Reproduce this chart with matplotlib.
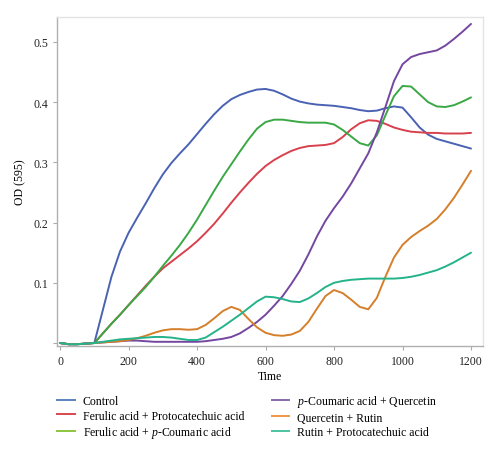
import matplotlib
matplotlib.use("Agg")
import matplotlib.pyplot as plt
from matplotlib.lines import Line2D

plt.rcParams['font.family'] = ['Liberation Serif', 'DejaVu Serif']
plt.rcParams['mathtext.fontset'] = 'custom'
plt.rcParams['mathtext.it'] = 'Liberation Serif:italic'
plt.rcParams['mathtext.rm'] = 'Liberation Serif'

time = [0, 25, 50, 75, 100, 125, 150, 175, 200, 225, 250, 275, 300, 325, 350, 375,
        400, 425, 450, 475, 500, 525, 550, 575, 600, 625, 650, 675, 700, 725, 750, 775,
        800, 825, 850, 875, 900, 925, 950, 975, 1000, 1025, 1050, 1075, 1100, 1125, 1150,
        1175, 1200]

control = [0.0, -0.002, -0.002, -0.001, 0.0, 0.055, 0.11, 0.152, 0.183, 0.208, 0.232, 0.257,
           0.28, 0.299, 0.315, 0.33, 0.347, 0.364, 0.38, 0.394, 0.405, 0.412, 0.417, 0.421,
           0.422, 0.419, 0.413, 0.406, 0.401, 0.398, 0.396, 0.395, 0.394, 0.392, 0.39, 0.387,
           0.385, 0.386, 0.39, 0.393, 0.391, 0.375, 0.358, 0.346, 0.339, 0.335, 0.331, 0.327,
           0.323]
ferulic_proto = [0.0, -0.002, -0.002, -0.001, 0.0, 0.016, 0.032, 0.047, 0.063, 0.079, 0.095,
                 0.11, 0.124, 0.135, 0.146, 0.157, 0.169, 0.183, 0.198, 0.215, 0.233, 0.25,
                 0.266, 0.281, 0.294, 0.304, 0.312, 0.319, 0.324, 0.327, 0.328, 0.329, 0.332,
                 0.342, 0.355, 0.365, 0.37, 0.369, 0.364, 0.358, 0.354, 0.351, 0.35, 0.349,
                 0.349, 0.348, 0.348, 0.348, 0.349]
ferulic_coum = [0.0, -0.002, -0.002, -0.001, 0.0, 0.016, 0.032, 0.047, 0.063, 0.078, 0.093,
                0.11, 0.128, 0.145, 0.163, 0.183, 0.205, 0.229, 0.253, 0.276, 0.297, 0.318,
                0.338, 0.356, 0.367, 0.371, 0.371, 0.369, 0.367, 0.366, 0.366, 0.366, 0.363,
                0.354, 0.343, 0.332, 0.328, 0.345, 0.378, 0.41, 0.427, 0.426, 0.413, 0.4,
                0.393, 0.392, 0.395, 0.401, 0.408]
coum_querc = [0.0, -0.002, -0.002, -0.001, 0.0, 0.001, 0.002, 0.003, 0.004, 0.004, 0.003,
              0.002, 0.002, 0.002, 0.002, 0.002, 0.002, 0.003, 0.005, 0.007, 0.01, 0.016,
              0.025, 0.035, 0.047, 0.062, 0.078, 0.098, 0.12, 0.147, 0.177, 0.203, 0.224,
              0.243, 0.265, 0.29, 0.315, 0.35, 0.392, 0.435, 0.463, 0.475, 0.48, 0.483,
              0.486, 0.494, 0.505, 0.517, 0.53]
querc_rutin = [0.0, -0.002, -0.002, -0.001, 0.0, 0.001, 0.002, 0.003, 0.005, 0.008, 0.012,
               0.017, 0.021, 0.023, 0.023, 0.022, 0.023, 0.03, 0.041, 0.053, 0.06, 0.055,
               0.04, 0.026, 0.017, 0.013, 0.012, 0.014, 0.02, 0.035, 0.057, 0.078, 0.088,
               0.083, 0.072, 0.06, 0.056, 0.075, 0.11, 0.142, 0.163, 0.176, 0.186, 0.195,
               0.206, 0.222, 0.241, 0.263, 0.286]
rutin_proto = [0.0, -0.002, -0.002, -0.001, 0.0, 0.002, 0.004, 0.006, 0.007, 0.008, 0.009,
               0.01, 0.01, 0.009, 0.007, 0.005, 0.005, 0.009, 0.018, 0.027, 0.037, 0.047,
               0.058, 0.069, 0.077, 0.076, 0.073, 0.069, 0.068, 0.074, 0.083, 0.093, 0.1,
               0.103, 0.105, 0.106, 0.107, 0.107, 0.107, 0.107, 0.108, 0.11, 0.113, 0.117,
               0.121, 0.127, 0.134, 0.142, 0.15]

labels = ["Control",
          "Ferulic acid + Protocatechuic acid",
          r"Ferulic acid + $\it{p}$-Coumaric acid",
          r"$\it{p}$-Coumaric acid + Quercetin",
          "Quercetin + Rutin",
          "Rutin + Protocatechuic acid"]
series = [control, ferulic_proto, ferulic_coum, coum_querc, querc_rutin, rutin_proto]
colors = ["#4a62b3", "#d8404e", "#3aa845", "#7447a0", "#d57f2a", "#24b38a"]
legend_colors = ["#5a82c0", "#d9484f", "#8cc63f", "#8a6aab", "#f0954a", "#4cc4a0"]

xticks = [0, 200, 400, 600, 800, 1000, 1200]
yticks = [0.0, 0.1, 0.2, 0.3, 0.4, 0.5]
ytick_labels = ["", "0.1", "0.2", "0.3", "0.4", "0.5"]

fig = plt.figure(figsize=(5.0, 4.56), dpi=100)
ax = fig.add_axes([0.114, 0.239, 0.852, 0.7215])

for vals, c in zip(series, colors):
    ax.plot(time, vals, color=c, lw=1.4, solid_joinstyle='round', solid_capstyle='round')

ax.set_xlim(-9, 1235)
ax.set_ylim(-0.005, 0.5415)
ax.set_xticks(xticks)
ax.set_xticklabels([str(v) for v in xticks])
ax.set_yticks(yticks)
ax.set_yticklabels(ytick_labels)
ax.tick_params(axis='both', labelsize=8.5, labelcolor='#222222', length=3, width=0.8,
               color='#aaaaaa')
for s in ['left', 'bottom']:
    ax.spines[s].set_color('#b0b0b0')
    ax.spines[s].set_linewidth(1.0)
for s in ['top', 'right']:
    ax.spines[s].set_color('#e4e4e4')
    ax.spines[s].set_linewidth(1.0)

ax.set_xlabel("Time", fontsize=8.5, labelpad=2)
ax.set_ylabel("OD (595)", fontsize=8.5, labelpad=5)

handles = [Line2D([0], [0], color=c, lw=1.4) for c in legend_colors]
fig.legend(handles, labels,
           loc='upper left', bbox_to_anchor=(0.114, 0.136), ncol=2,
           frameon=False, fontsize=8.5, handlelength=1.5, handletextpad=0.7,
           columnspacing=2.3, labelspacing=0.22, borderaxespad=0, borderpad=0)

fig.savefig("out.png", dpi=100)
